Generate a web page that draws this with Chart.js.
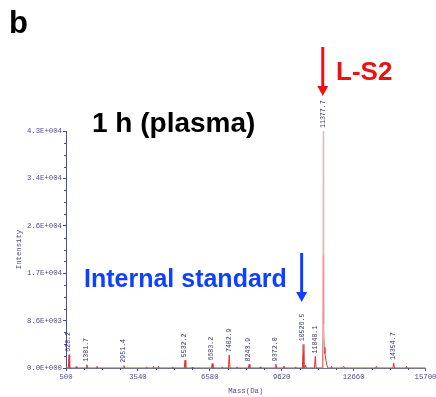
<!DOCTYPE html>
<html>
<head>
<meta charset="utf-8">
<script src="https://cdn.jsdelivr.net/npm/chart.js@4"></script>
<style>
  html, body { margin: 0; padding: 0; background: #fff; }
  canvas { display: block; }
</style>
</head>
<body>
<canvas id="chart" width="436" height="397"></canvas>
<script>
// Data

// spectrum profile (mass in Da, intensity)
const masses = [
    500, 598, 628.2, 655, 900, 930, 960, 1350, 1381.7, 1410, 1780, 1810, 1840,
    2920, 2951.4, 2980, 3880, 3910, 3940, 4170, 4200, 4230, 4380, 4410, 4440,
    4980, 5010, 5040, 5500, 5532.2, 5565, 5800, 5830, 5860, 6650, 6683.2, 6715,
    7080, 7110, 7140, 7370, 7402.9, 7435, 7700, 7730, 7760, 8210, 8243.9, 8275,
    8680, 8710, 8740, 9340, 9372.0, 9405, 9680, 9710, 9740, 10180, 10210, 10240,
    10495, 10526.5, 10560, 10600, 10630, 10660, 11005, 11040.1, 11075,
    11340, 11360, 11377.7, 11395, 11420, 11450, 11490, 11530, 11580,
    11700, 11730, 11760, 12200, 12240, 12280, 13590, 13620, 13650,
    14320, 14354.7, 14390, 14870, 14900, 14930, 15700
];
const intensities = [
    0, 0, 2400, 0, 0, 250, 0, 0, 600, 0, 0, 280, 0,
    0, 420, 0, 0, 220, 0, 0, 300, 0, 0, 350, 0,
    0, 200, 0, 0, 1400, 0, 0, 150, 0, 0, 800, 0,
    0, 200, 0, 0, 2350, 0, 0, 200, 0, 0, 650, 0,
    0, 200, 0, 0, 700, 0, 0, 350, 0, 0, 200, 0,
    0, 4300, 0, 0, 500, 0, 0, 2100, 0,
    0, 6000, 43000, 8000, 3800, 2600, 1400, 500, 0,
    0, 300, 0, 0, 300, 0, 0, 300, 0,
    0, 900, 0, 0, 300, 0, 0
];

// labelled peaks
const peakMasses = [628.2, 1381.7, 2951.4, 5532.2, 6683.2, 7402.9, 8243.9, 9372.0, 10526.5, 11040.1, 11377.7, 14354.7];
const peakHeights = [2400, 600, 420, 1400, 800, 2350, 650, 700, 4300, 2100, 43000, 900];
const peakLabels = ["628.2", "1381.7", "2951.4", "5532.2", "6683.2", "7402.9", "8243.9", "9372.0", "10526.5", "11040.1", "11377.7", "14354.7"];

// axis ticks
const xTicks = [500, 3540, 6580, 9620, 12660, 15700];
const yTicks = [0, 8600, 17200, 25800, 34400, 43000];

const points = masses.map((m, i) => ({ x: m, y: intensities[i] }));

const axisColor = "#4d4d92";
const tickFont = { family: "Liberation Mono", size: 7.3 };

function sci(v) {
    if (v === 0) return "0.0E+000";
    const e = Math.floor(Math.log10(v));
    const m = v / Math.pow(10, e);
    return m.toFixed(1) + "E+" + String(e).padStart(3, "0");
}

// the trace fades to pink higher up, as in the scanned figure
let grad = null;
function traceColor(context) {
    const area = context.chart.chartArea;
    if (!area) return "#e82a2a";
    if (!grad) {
        grad = context.chart.ctx.createLinearGradient(0, area.top, 0, area.bottom);
        grad.addColorStop(0, "#dcc0c0");
        grad.addColorStop(0.52, "#dcb8b8");
        grad.addColorStop(0.53, "#ec9494");
        grad.addColorStop(0.86, "#ec8a8a");
        grad.addColorStop(0.9, "#c86a6a");
        grad.addColorStop(0.95, "#e23030");
        grad.addColorStop(1, "#e82a2a");
    }
    return grad;
}

// Extras: minor ticks, peak labels, annotations

const extras = {
    id: "extras",
    afterDraw(chart) {
        const ctx = chart.ctx;
        const xs = chart.scales.x, ys = chart.scales.y;
        const area = chart.chartArea;

        ctx.save();
        // minor ticks, 4 subdivisions
        ctx.strokeStyle = axisColor;
        ctx.lineWidth = 1;
        ctx.beginPath();
        for (let i = 0; i < xTicks.length - 1; i++) {
            const step = (xTicks[i + 1] - xTicks[i]) / 4;
            for (let k = 1; k < 4; k++) {
                const px = Math.round(xs.getPixelForValue(xTicks[i] + k * step)) + 0.5;
                ctx.moveTo(px, area.bottom);
                ctx.lineTo(px, area.bottom + 2);
            }
        }
        for (let i = 0; i < yTicks.length - 1; i++) {
            const step = (yTicks[i + 1] - yTicks[i]) / 4;
            for (let k = 1; k < 4; k++) {
                const py = Math.round(ys.getPixelForValue(yTicks[i] + k * step)) + 0.5;
                ctx.moveTo(area.left, py);
                ctx.lineTo(area.left - 2, py);
            }
        }
        ctx.stroke();

        // peak labels
        ctx.fillStyle = "#33336e";
        ctx.font = "6.6px 'Liberation Mono'";
        ctx.textAlign = "left";
        ctx.textBaseline = "middle";
        peakMasses.forEach((m, i) => {
            const px = xs.getPixelForValue(m);
            const py = ys.getPixelForValue(peakHeights[i]);
            ctx.save();
            ctx.translate(px - 0.5, py - 3);
            ctx.rotate(-Math.PI / 2);
            ctx.fillText(peakLabels[i], 0, 0);
            ctx.restore();
        });

        // panel letter and titles
        ctx.textAlign = "left";
        ctx.textBaseline = "alphabetic";
        ctx.fillStyle = "#000";
        ctx.font = "bold 31px 'Liberation Sans'";
        ctx.fillText("b", 9, 33);
        ctx.font = "bold 28px 'Liberation Sans'";
        ctx.fillText("1 h (plasma)", 92, 132);

        ctx.fillStyle = "#1040ff";
        ctx.font = "bold 25px 'Liberation Sans'";
        ctx.fillText("Internal standard", 84, 287);

        ctx.fillStyle = "#ee1111";
        ctx.font = "bold 26px 'Liberation Sans'";
        ctx.fillText("L-S2", 336, 80);

        // arrows
        const arrow = (x, y0, y1, color) => {
            ctx.strokeStyle = color;
            ctx.fillStyle = color;
            ctx.lineWidth = 3;
            ctx.beginPath();
            ctx.moveTo(x, y0);
            ctx.lineTo(x, y1 - 9);
            ctx.stroke();
            ctx.beginPath();
            ctx.moveTo(x - 5.5, y1 - 10);
            ctx.lineTo(x + 5.5, y1 - 10);
            ctx.lineTo(x, y1);
            ctx.closePath();
            ctx.fill();
        };
        arrow(xs.getPixelForValue(11377.7) - 0.5, 47, 96, "#ee1111");
        arrow(xs.getPixelForValue(10526.5) - 1.5, 253, 302, "#1040ff");
        ctx.restore();
    }
};

// Config

const config = {
    type: "scatter",
    data: {
        datasets: [{
            data: points,
            showLine: true,
            borderColor: traceColor,
            backgroundColor: "#e82a2a",
            borderWidth: 1,
            pointRadius: 0,
            tension: 0
        }]
    },
    options: {
        responsive: false,
        animation: false,
        devicePixelRatio: 1,
        layout: { padding: { top: 131, right: 10.5, left: 0, bottom: 0 } },
        plugins: {
            legend: { display: false },
            tooltip: { enabled: false }
        },
        scales: {
            x: {
                type: "linear",
                min: 500,
                max: 15700,
                afterBuildTicks: (s) => { s.ticks = xTicks.map(v => ({ value: v })); },
                afterFit: (s) => { s.height = 29; s.paddingLeft = 0; s.paddingRight = 0; },
                border: { color: "#7d6f8e", width: 1 },
                grid: { drawOnChartArea: false, tickLength: 3, tickColor: axisColor },
                ticks: {
                    color: "#4d4d92",
                    font: tickFont,
                    padding: 2,
                    maxRotation: 0,
                    autoSkip: false,
                    callback: (v) => String(v)
                },
                title: {
                    display: true,
                    text: "Mass(Da)",
                    color: "#4d4d92",
                    font: tickFont,
                    padding: { top: 0, bottom: 2 }
                }
            },
            y: {
                type: "linear",
                min: 0,
                max: 43000,
                afterBuildTicks: (s) => { s.ticks = yTicks.map(v => ({ value: v })); },
                afterFit: (s) => { s.width = 66; },
                border: { color: axisColor, width: 1 },
                grid: { drawOnChartArea: false, tickLength: 3, tickColor: axisColor },
                ticks: {
                    color: "#4d4d92",
                    font: tickFont,
                    padding: 1,
                    autoSkip: false,
                    callback: (v) => sci(v)
                },
                title: {
                    display: true,
                    text: "Intensity",
                    color: "#4d4d92",
                    font: tickFont,
                    padding: { top: 15, bottom: 0 }
                }
            }
        }
    },
    plugins: [extras]
};

// Render

new Chart(document.getElementById("chart"), config);
</script>
</body>
</html>
